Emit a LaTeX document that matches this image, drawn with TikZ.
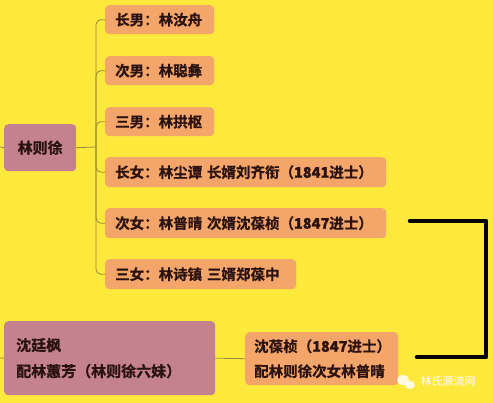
\documentclass[tikz,border=0pt]{standalone}
\usepackage{fontspec}
\setmainfont{Noto Sans CJK SC}[BoldFont={Noto Sans CJK SC Bold}]
\newfontfamily\cjkb{Noto Sans CJK SC Bold}[FakeBold=0.8]
\newfontfamily\numb{Noto Sans CJK SC Black}[FakeBold=1.2]
\newcommand{\yr}[1]{{\numb #1}}
\definecolor{bgyellow}{HTML}{FDE83C}
\definecolor{kidfill}{HTML}{F4A569}
\definecolor{rootfill}{HTML}{C4828F}
\definecolor{treeline}{HTML}{9A8A40}
\definecolor{txt}{HTML}{2A1210}
\tikzset{
  kid/.style={fill=kidfill, rounded corners=4pt, inner xsep=10pt, inner ysep=0pt, align=left, anchor=north west, font=\cjkb\fontsize{14.5}{18}\selectfont, text=txt},
  rootbox/.style={fill=rootfill, rounded corners=4pt, inner sep=0pt, anchor=north west, font=\cjkb\fontsize{15}{19}\selectfont, text=txt},
  tree/.style={draw=treeline, line width=0.8pt},
  bracket/.style={draw=black, line width=4.5pt, line cap=round}
}
\begin{document}
\begin{tikzpicture}[x=1pt,y=-1pt]
\fill[bgyellow] (0,0) rectangle (493,403);
\useasboundingbox (0,0) rectangle (493,403);
% root
\node[rootbox, minimum width=72pt, minimum height=47pt] (lzx) at (4,124) {林则徐};
% children
\node[kid, text width=89pt, minimum height=29pt] (c1) at (105,5) {长男：林汝舟};
\node[kid, text width=89pt, minimum height=29pt] (c2) at (105,56) {次男：林聪彝};
\node[kid, text width=89pt, minimum height=29pt] (c3) at (105,107) {三男：林拱枢};
\node[kid, text width=261pt, minimum height=30pt] (c4) at (105,157) {长女：林尘谭 长婿刘齐衔（\yr{1841}进士）};
\node[kid, text width=261pt, minimum height=30pt] (c5) at (105,208) {次女：林普晴 次婿沈葆桢（\yr{1847}进士）};
\node[kid, text width=171pt, minimum height=30pt] (c6) at (105,259) {三女：林诗镇 三婿郑葆中};
% tree connectors
\coordinate (hub) at (96,147);
\coordinate (lin1) at (0,147);
\draw[tree] (lin1) -- (lzx.west);
\draw[tree] (lzx.east) -- (hub);
\foreach \c in {c1,c2,c3,c4,c5,c6}{
  \draw[tree, rounded corners=5pt] (hub) |- (\c.west);
}
% bottom nodes
\node[rootbox, minimum width=211pt, minimum height=74pt, inner xsep=12pt, text width=187pt, align=left, font=\cjkb\fontsize{15}{26}\selectfont] (stf) at (4,321) {沈廷枫\\配林蕙芳（林则徐六妹）};
\node[kid, inner xsep=9pt, text width=135pt, minimum height=53pt, font=\cjkb\fontsize{14.5}{25}\selectfont] (sbz) at (245,332) {沈葆桢（\yr{1847}进士）\\配林则徐次女林普晴};
\coordinate (lin2) at (0,358);
\draw[tree] (lin2) -- (stf.west);
\draw[tree] (stf.east) -- (sbz.west);
% black bracket
\coordinate (b1) at (410,221);
\coordinate (b2) at (486,221);
\coordinate (b3) at (486,357);
\coordinate (b4) at (417,357);
\draw[bracket, line join=round] (b1) -- (b2) -- (b3) -- (b4);
% watermark
\fill[white, opacity=0.85] (403,380) ellipse (6pt and 5pt);
\fill[white, opacity=0.85] (410,385) ellipse (5pt and 4pt);
\node[font=\fontsize{11}{13}\selectfont, text=white, inner sep=0pt] (wm) at (448,381) {林氏源流网};
\end{tikzpicture}
\end{document}
